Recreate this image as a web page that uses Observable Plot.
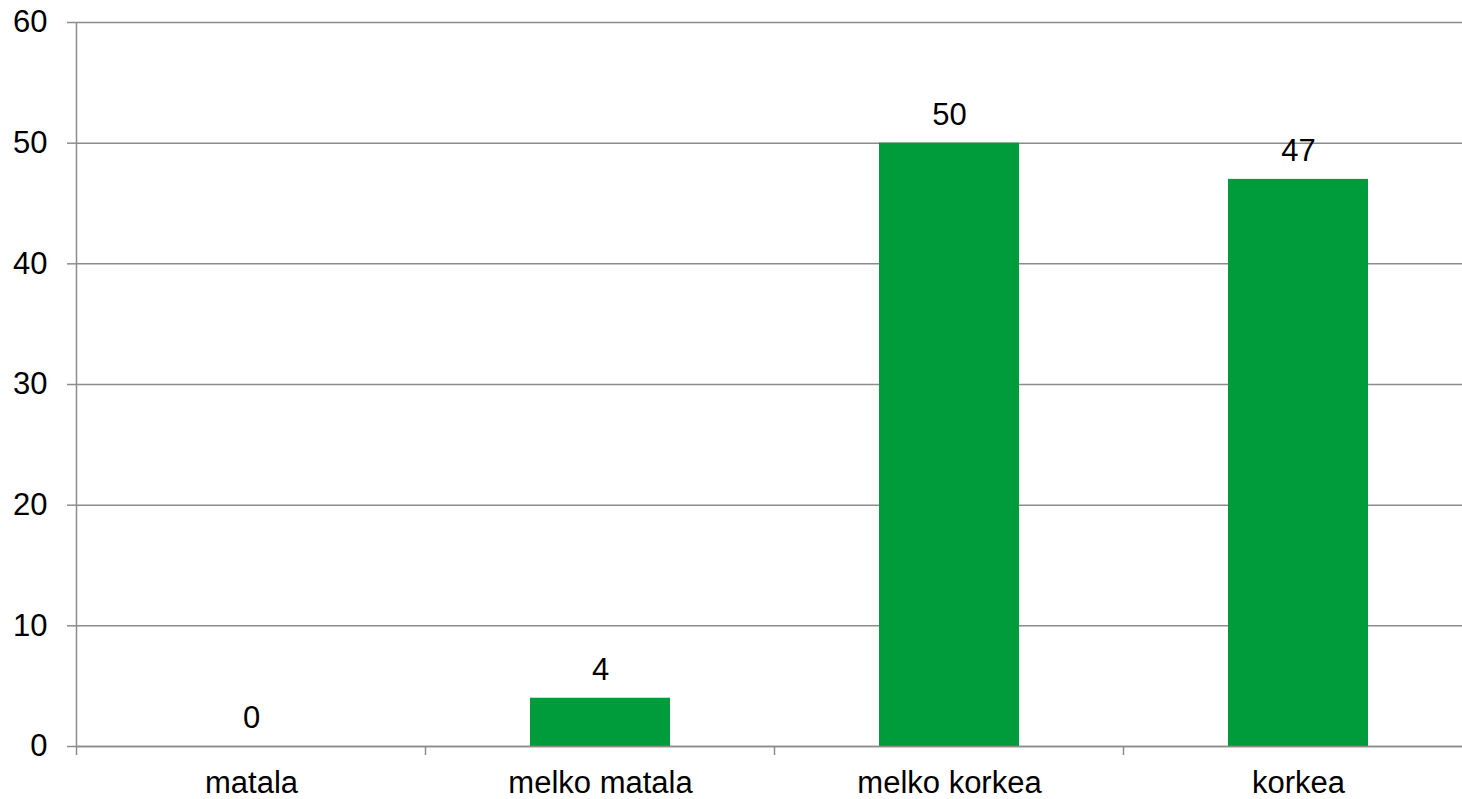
<!DOCTYPE html>
<html><head><meta charset="utf-8">
<script src="https://cdn.jsdelivr.net/npm/d3@7"></script>
<script src="https://cdn.jsdelivr.net/npm/@observablehq/plot@0.6"></script>
<style>html,body{margin:0;padding:0;overflow:hidden;background:#fff}#chart svg{max-width:none !important;}</style>
</head><body><div id="chart"></div>
<script>
const categories = ["matala", "melko matala", "melko korkea", "korkea"];
const values = [0, 4, 50, 47];
const yTicks = [0, 10, 20, 30, 40, 50, 60];
const data = categories.map((c, i) => ({category: c, value: values[i]}));
const gridColor = "#8c8c8c";
const barColor = "#009b3a";

const boundaryTicks = (index, scales) => {
  const x = scales.x, y = scales.y;
  const half = (x.step() - x.bandwidth()) / 2;
  const g = d3.create("svg:g").attr("stroke", gridColor).attr("stroke-width", 1.5);
  categories.forEach((c, i) => {
    const px = x(c) - half;
    g.append("line").attr("x1", px).attr("x2", px)
      .attr("y1", i === 0 ? y(60) : y(0)).attr("y2", y(0) + 9);
  });
  return g.node();
};

const chart = Plot.plot({
  width: 1472,
  height: 799,
  marginTop: 22,
  marginBottom: 53,
  marginLeft: 76,
  marginRight: 0,
  style: {fontFamily: "'Liberation Sans', Arial, sans-serif", color: "black", background: "white", maxWidth: "none"},
  x: {domain: categories, paddingInner: 0.6, paddingOuter: 0.3, label: null},
  y: {domain: [0, 60], label: null},
  marks: [
    Plot.ruleY(yTicks, {stroke: gridColor, strokeWidth: 1.5}),
    Plot.barY(data, {x: "category", y: "value", fill: barColor}),
    Plot.ruleY([0], {stroke: gridColor, strokeWidth: 1.5}),
    boundaryTicks,
    Plot.axisY(yTicks, {tickSize: 9, tickPadding: 20, stroke: gridColor, strokeWidth: 1.5, fill: "black", fontSize: 31, label: null}),
    Plot.axisX({tickSize: 0, tickPadding: 24, fill: "black", fontSize: 31, label: null}),
    Plot.text(data, {x: "category", y: "value", text: d => String(d.value), dy: -28, fontSize: 31, fill: "black"})
  ]
});
chart.style.maxWidth = "none";
document.getElementById("chart").appendChild(chart);
</script>
</body></html>
